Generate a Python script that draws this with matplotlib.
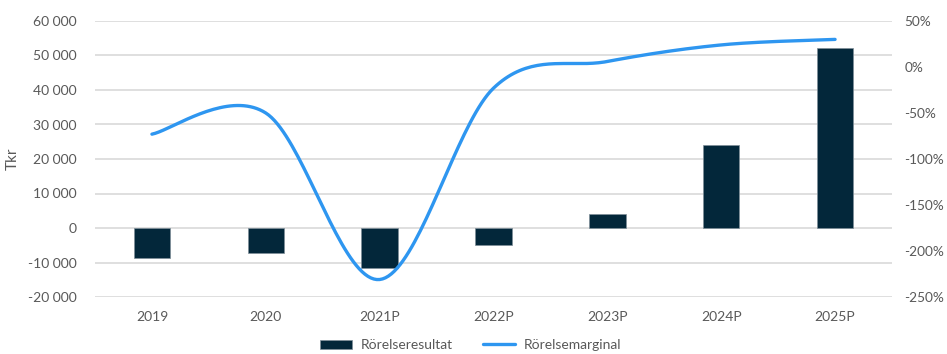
import numpy as np
import matplotlib as mpl
mpl.rcParams.update({'font.family': ['Lato', 'DejaVu Sans'], 'font.size': 10})
from matplotlib import pyplot as plt
from matplotlib.ticker import FuncFormatter

years = ['2019', '2020', '2021P', '2022P', '2023P', '2024P', '2025P']
rorelseresultat = [-8700, -7300, -11600, -4900, 4100, 24100, 52200]
rorelsemarginal = [-73, -50, -231, -23, 6, 24, 30]

BAR = '#03273A'
LINE = '#2E96F0'
TXT = '#595959'


def smooth(x, y, n=40):
    # excel-like smoothed line (catmull-rom bezier)
    x = np.asarray(x, float)
    y = np.asarray(y, float)
    xs, ys = [], []
    for i in range(len(x) - 1):
        p0 = np.array([x[max(i - 1, 0)], y[max(i - 1, 0)]])
        p1 = np.array([x[i], y[i]])
        p2 = np.array([x[i + 1], y[i + 1]])
        p3 = np.array([x[min(i + 2, len(x) - 1)], y[min(i + 2, len(x) - 1)]])
        c1 = p1 + (p2 - p0) / 6.0
        c2 = p2 - (p3 - p1) / 6.0
        t = np.linspace(0, 1, n)[:, None]
        b = (1 - t)**3*p1 + 3*(1 - t)**2*t*c1 + 3*(1 - t)*t**2*c2 + t**3*p2
        xs.extend(b[:, 0])
        ys.extend(b[:, 1])
    return np.array(xs), np.array(ys)


def thousands(v, pos):
    s = '{:,.0f}'.format(abs(v)).replace(',', ' ')
    return ('-' if v < 0 else '') + s


fig = plt.figure(figsize=(9.47, 3.54), dpi=100)
ax = fig.add_axes([95/947, 1 - 297/354, (892 - 95)/947, (297 - 21)/354])
x = np.arange(len(years))

ax.bar(x, rorelseresultat, width=0.32, color=BAR, edgecolor='#7f8f99', linewidth=0.5,
       label='Rörelseresultat', zorder=2)
ax.set_ylim(-20000, 60000)
ax.set_yticks(np.arange(-20000, 60001, 10000))
ax.yaxis.set_major_formatter(FuncFormatter(thousands))
ax.set_xlim(-0.5, len(years) - 0.5)
ax.set_xticks(x)
ax.set_xticklabels(years)
ax.grid(axis='y', color='#D9D9D9', linewidth=1.2, zorder=0)
ax.set_axisbelow(True)
ax.set_ylabel('Tkr', color=TXT, fontsize=11)
ax.yaxis.set_label_coords(-0.094, 0.5)

ax2 = ax.twinx()
sx, sy = smooth(x, rorelsemarginal)
ax2.plot(sx, sy, color=LINE, linewidth=2.4, solid_capstyle='round',
         label='Rörelsemarginal', zorder=3)
ax2.set_ylim(-250, 50)
ax2.set_yticks(np.arange(-250, 51, 50))
ax2.yaxis.set_major_formatter(FuncFormatter(lambda v, p: '%d%%' % v))

for a in (ax, ax2):
    for s in a.spines.values():
        s.set_visible(False)
    a.tick_params(length=0, colors=TXT, labelsize=10)
ax.tick_params(axis='x', pad=10)
ax.tick_params(axis='y', pad=13)
ax2.tick_params(axis='y', pad=9, labelsize=9.8)

h1, l1 = ax.get_legend_handles_labels()
h2, l2 = ax2.get_legend_handles_labels()
fig.legend(h1 + h2, l1 + l2, loc='center', bbox_to_anchor=(0.497, 1 - 345/354), ncol=2,
           frameon=False, handlelength=2.3, handleheight=0.6, handletextpad=0.6,
           columnspacing=2.2, labelcolor=TXT, fontsize=10)

fig.savefig('out.png', dpi=100)
